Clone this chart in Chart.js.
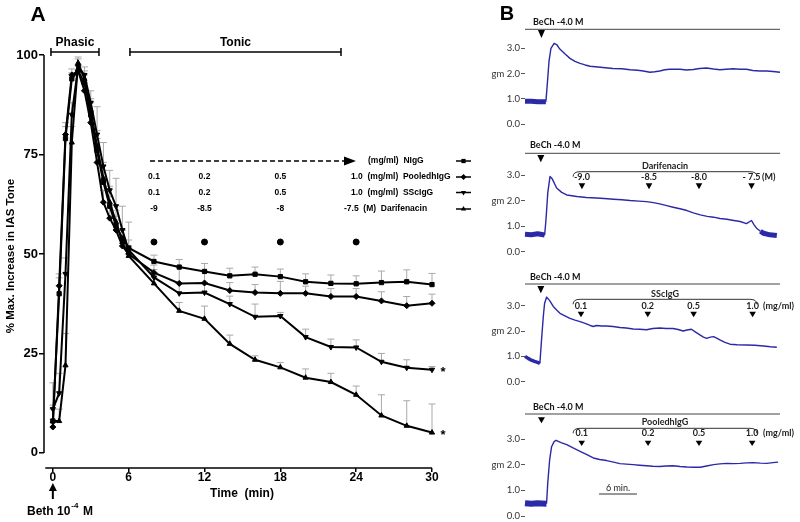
<!DOCTYPE html>
<html><head><meta charset="utf-8">
<script src="https://cdn.jsdelivr.net/npm/chart.js@4.4.1/dist/chart.umd.min.js"></script>
<style>
html,body{margin:0;padding:0;background:#fff;}
#wrap{position:relative;width:800px;height:522px;overflow:hidden;background:#fff;}
canvas{position:absolute;}
</style></head><body>
<div id="wrap">
<canvas id="cA" width="480" height="522" style="left:0;top:0"></canvas>
<canvas id="cB1" width="320" height="130" style="left:480px;top:0px"></canvas>
<canvas id="cB2" width="320" height="130" style="left:480px;top:130px"></canvas>
<canvas id="cB3" width="320" height="130" style="left:480px;top:260px"></canvas>
<canvas id="cB4" width="320" height="132" style="left:480px;top:390px"></canvas>
</div>
<script>
// ---------------- Panel A data ----------------
const timeMin = [0,0.5,1,1.5,2,2.5,3,3.5,4,4.5,5,5.5,6,8,10,12,14,16,18,20,22,24,26,28,30];
const niggMean   = [8,40,79,94,96,93,85,76,68,62,57,54,51.5,48.1,46.7,45.6,44.5,44.9,44.3,43.0,42.6,42.5,42.8,43.0,42.3];
const niggSem    = [3,4,3,1.5,1.5,2,3,3,3,2.5,2.5,2,2,1.6,1.9,2,1.9,1.8,1.9,2,2.1,2,2.9,3,2.8];
const pooledMean = [6.5,42,80,95,96,91,83,73,63,59,56,52,50,45.3,42.6,42.7,40.8,40.3,40.1,40.1,39.3,39.3,38.2,37.0,37.6];
const pooledSem  = [2,3,3,1.5,1.5,2,3,3,3,2.5,2.5,2,2,1.9,4,3,2,2,3,1.8,2,2,2.3,2.3,2.3];
const sscMean    = [11,15,45,85,97,95,88,80,72,66,62,56,51,44.1,40.1,40.3,37.4,34.2,34.4,29.1,26.6,26.5,22.9,21.4,20.9];
const sscSem     = [6.6,5,4,3,2,2,3,7,6,5,7,6,7,2,2.5,2.5,2,3.2,0.9,2,2,1.9,2.1,2,0.8];
const darifMean  = [8,8,22,78,98,94,86,77,69,63,58,53,49.5,42.6,35.7,33.7,27.4,23.4,21.5,18.9,17.8,14.6,9.4,6.8,5.1];
const darifSem   = [4,3,8,4,1.5,2,3,4,4,4,3,3,2,1.5,2.1,3.2,2.2,1,1.2,2.2,2.2,2.2,5.2,6.3,7.2];
const doseTimesA = [8,12,18,24];
const doseMarkLevel = 53;
const iggDoseLabelsA = ['0.1','0.2','0.5'];
const darifDoseLabelsA = ['-9','-8.5','-8'];
const xTicksA = [0,6,12,18,24,30];
const yTicksA = [0,25,50,75,100];
const phasicRange = [-0.15,3.65];
const tonicRange = [6.1,22.8];

// ---------------- Panel B data (time in min, tension in gm) ----------------
const traceBeCh = [[0,0.9],[1,0.9],[2,0.88],[3.3,0.88],[3.5,1.5],[3.8,2.5],[4.1,3.0],[4.6,3.2],[5.0,3.15],[5.5,2.97],[6.3,2.78],[7.1,2.6],[7.9,2.48],[8.7,2.4],[9.5,2.34],[10.3,2.29],[11.9,2.25],[13.9,2.2],[15.3,2.19],[16.6,2.15],[17.8,2.13],[18.7,2.1],[19.75,2.05],[20.5,2.07],[21.3,2.1],[22.1,2.15],[22.9,2.17],[24.5,2.17],[25.5,2.14],[26.6,2.16],[27.6,2.2],[28.7,2.22],[29.8,2.18],[30.8,2.15],[31.8,2.17],[32.9,2.19],[34,2.17],[35,2.17],[36,2.12],[37.1,2.1],[38.2,2.1],[39.2,2.08],[40.3,2.05]];
const traceDarif = [[0,0.68],[1,0.66],[2,0.7],[3.1,0.65],[3.3,1.2],[3.6,2.3],[3.95,2.94],[4.3,2.85],[5.0,2.49],[5.8,2.32],[6.6,2.22],[8.2,2.16],[9.7,2.12],[11.3,2.1],[12.5,2.08],[14,2.05],[15.3,2.03],[16.6,2.0],[18,1.98],[19.2,1.96],[20.3,1.92],[21.3,1.87],[22.4,1.8],[23.4,1.74],[24.5,1.68],[25.6,1.61],[26.6,1.52],[27.7,1.44],[28.8,1.38],[29.8,1.35],[30.8,1.3],[31.9,1.27],[33,1.22],[34,1.18],[35,1.1],[35.8,1.22],[36.2,1.05],[36.6,0.92],[37.2,0.8],[37.7,0.72],[38.7,0.66],[39.8,0.63]];
const traceSsc = [[0,1.0],[0.5,0.92],[1,0.85],[1.5,0.8],[2.1,0.75],[2.35,0.72],[2.6,1.6],[2.9,2.6],[3.1,3.1],[3.42,3.34],[3.9,3.2],[4.47,2.97],[5.0,2.83],[5.53,2.7],[6.3,2.6],[7.1,2.5],[7.9,2.43],[8.7,2.37],[9.5,2.3],[10.3,2.22],[10.8,2.18],[11.3,2.22],[12.1,2.2],[12.9,2.2],[13.9,2.18],[15,2.14],[16,2.12],[17.1,2.08],[18.1,2.07],[19.2,2.05],[20.2,2.1],[21.3,2.12],[22.3,2.1],[23.4,2.1],[24.2,2.06],[25.0,2.0],[25.6,2.04],[26.3,2.07],[26.9,1.97],[27.7,1.84],[28.2,1.76],[28.7,1.71],[29.3,1.76],[29.8,1.78],[30.3,1.72],[30.8,1.65],[31.6,1.55],[32.4,1.48],[33.5,1.46],[35,1.45],[36.3,1.44],[37.7,1.41],[38.8,1.38],[39.8,1.36]];
const tracePooled = [[0,0.5],[1,0.48],[2,0.5],[3.4,0.48],[3.6,1.3],[3.9,2.2],[4.2,2.7],[4.6,2.9],[4.9,2.95],[5.7,2.86],[6.6,2.78],[7.6,2.65],[8.7,2.52],[9.7,2.4],[10.8,2.26],[11.8,2.2],[12.9,2.16],[14,2.1],[15,2.04],[16,2.02],[17.1,2.0],[18.1,1.98],[19.2,1.96],[20.2,1.94],[21.3,1.93],[22.3,1.95],[23.4,1.96],[24.5,1.93],[25.6,1.91],[26.6,1.9],[27.7,1.9],[28.7,1.95],[29.8,2.0],[30.8,2.03],[31.9,2.05],[33,2.04],[34,2.05],[35,2.07],[36.1,2.08],[37.2,2.06],[38.2,2.05],[39.2,2.08],[40,2.1]];
const bechTimesB = [2.6,2.5,2.5,2.6];
const darifDoseTimesB = [9.0,19.6,27.5,35.8];
const darifDoseLabelsB = ['-9.0','-8.5','-8.0','- 7.5'];
const sscDoseTimesB = [8.85,19.4,26.65,35.97];
const pooledDoseTimesB = [8.96,19.45,27.5,35.9];
const iggDoseLabelsB = ['0.1','0.2','0.5','1.0'];
const bracketRangeB = [7.6,36.65];
const scaleBarMin = [11.7,17.7];
const yTicksB = [0,1,2,3];

// ---------------- helpers ----------------
const FA = "'Liberation Sans', Arial, sans-serif";
const FB = "Lato, 'Liberation Sans', sans-serif";
Chart.defaults.font.family = FA;
Chart.defaults.color = '#000';

function T(ctx,s,x,y,font,align,color){ctx.font=font;ctx.fillStyle=color||'#000';ctx.textAlign=align||'center';ctx.textBaseline='middle';ctx.fillText(s,x,y);}
function L(ctx,x1,y1,x2,y2){ctx.beginPath();ctx.moveTo(x1,y1);ctx.lineTo(x2,y2);ctx.stroke();}
function triDown(ctx,x,yTop,yBot,hw){ctx.beginPath();ctx.moveTo(x-hw,yTop);ctx.lineTo(x+hw,yTop);ctx.lineTo(x,yBot);ctx.closePath();ctx.fill();}
function mark(ctx,style,rot,x,y,r){
  ctx.beginPath();
  if(style==='rect'){const s=r*Math.SQRT1_2;ctx.rect(x-s,y-s,2*s,2*s);}
  else if(style==='rectRot'){ctx.moveTo(x,y-r);ctx.lineTo(x+r,y);ctx.lineTo(x,y+r);ctx.lineTo(x-r,y);ctx.closePath();}
  else {const d=rot?-1:1;ctx.moveTo(x,y-d*r);ctx.lineTo(x+r*0.87,y+d*r*0.5);ctx.lineTo(x-r*0.87,y+d*r*0.5);ctx.closePath();}
  ctx.fill();
}

// ---------------- Panel A ----------------
const seriesA = [
  {label:'NIgG',mean:niggMean,sem:niggSem,style:'rect',rot:0},
  {label:'PooledhIgG',mean:pooledMean,sem:pooledSem,style:'rectRot',rot:0},
  {label:'SScIgG',mean:sscMean,sem:sscSem,style:'triangle',rot:180},
  {label:'Darifenacin',mean:darifMean,sem:darifSem,style:'triangle',rot:0}
];

const errPlugin = {id:'err',beforeDatasetsDraw(chart){
  const ctx=chart.ctx,x=chart.scales.x,y=chart.scales.y;
  ctx.save();ctx.strokeStyle='#a9a9a9';ctx.lineWidth=1;
  chart.data.datasets.forEach(ds=>{
    if(!ds.sem) return;
    ds.data.forEach((p,i)=>{
      const px=x.getPixelForValue(p.x),py=y.getPixelForValue(p.y),pe=y.getPixelForValue(p.y+ds.sem[i]);
      L(ctx,px,py,px,pe);L(ctx,px-3.5,pe,px+3.5,pe);
    });
  });
  ctx.restore();
}};

const annotA = {id:'annA',afterDraw(chart){
  const ctx=chart.ctx,x=chart.scales.x,y=chart.scales.y,ca=chart.chartArea;
  ctx.save();
  ctx.strokeStyle='#000';ctx.fillStyle='#000';ctx.lineWidth=1.5;
  L(ctx,ca.left,y.getPixelForValue(100),ca.left,y.getPixelForValue(0));
  L(ctx,x.getPixelForValue(-0.6),ca.bottom,x.getPixelForValue(30),ca.bottom);
  T(ctx,'A',38,15,'bold 21px '+FA);
  const br=(r,label)=>{const x1=x.getPixelForValue(r[0]),x2=x.getPixelForValue(r[1]);ctx.lineWidth=1.5;
    L(ctx,x1,52,x2,52);L(ctx,x1,48,x1,56);L(ctx,x2,48,x2,56);T(ctx,label,(x1+x2)/2,43,'bold 12px '+FA);};
  br(phasicRange,'Phasic');br(tonicRange,'Tonic');
  // dashed arrow
  ctx.lineWidth=1.3;ctx.setLineDash([5,3]);L(ctx,150,161,345,161);ctx.setLineDash([]);
  ctx.beginPath();ctx.moveTo(356,161);ctx.lineTo(344,156.5);ctx.lineTo(344,165.5);ctx.closePath();ctx.fill();
  const rf='bold 8.5px '+FA;
  const rows=[161,177,192.5,209];
  T(ctx,'(mg/ml)  NIgG',368,rows[0],rf,'left');
  iggDoseLabelsA.forEach((s,i)=>{const px=x.getPixelForValue(doseTimesA[i]);T(ctx,s,px,rows[1],rf);T(ctx,s,px,rows[2],rf);});
  darifDoseLabelsA.forEach((s,i)=>{T(ctx,s,x.getPixelForValue(doseTimesA[i]),rows[3],rf);});
  T(ctx,'1.0  (mg/ml)  PooledhIgG',351,rows[1],rf,'left');
  T(ctx,'1.0  (mg/ml)  SScIgG',351,rows[2],rf,'left');
  T(ctx,'-7.5  (M)  Darifenacin',344,rows[3],rf,'left');
  seriesA.forEach((s,i)=>{ctx.lineWidth=1.5;L(ctx,456,rows[i],471,rows[i]);mark(ctx,s.style,s.rot,463.5,rows[i],3);});
  // asterisks
  const ax=x.getPixelForValue(30)+11;
  T(ctx,'*',ax,y.getPixelForValue(sscMean[sscMean.length-1])+3,'bold 13px '+FA);
  T(ctx,'*',ax,y.getPixelForValue(darifMean[darifMean.length-1])+3,'bold 13px '+FA);
  // titles
  T(ctx,'Time  (min)',242,494,'bold 12px '+FA);
  ctx.save();ctx.translate(11,256);ctx.rotate(-Math.PI/2);T(ctx,'% Max. Increase in IAS Tone',0,0,'bold 11.5px '+FA);ctx.restore();
  // Beth arrow
  const bx=x.getPixelForValue(0);ctx.lineWidth=2;L(ctx,bx,499,bx,489);
  ctx.beginPath();ctx.moveTo(bx,483);ctx.lineTo(bx+4,491);ctx.lineTo(bx-4,491);ctx.closePath();ctx.fill();
  ctx.font='bold 12px '+FA;const w=ctx.measureText('Beth 10').width;
  T(ctx,'Beth 10',27,512,'bold 12px '+FA,'left');
  T(ctx,'-4',27+w+1,506,'bold 8px '+FA,'left');
  T(ctx,'M',83,512,'bold 12px '+FA,'left');
  ctx.restore();
}};

new Chart(document.getElementById('cA'),{
  type:'line',
  data:{datasets:seriesA.map(s=>({label:s.label,data:timeMin.map((t,i)=>({x:t,y:s.mean[i]})),sem:s.sem,
      borderColor:'#000',backgroundColor:'#000',borderWidth:2,pointStyle:s.style,pointRotation:s.rot,pointRadius:3,
      pointBorderWidth:1,tension:0,clip:false}))
    .concat([{label:'dose',data:doseTimesA.map(t=>({x:t,y:doseMarkLevel})),showLine:false,pointStyle:'circle',
      pointRadius:3,backgroundColor:'#000',borderColor:'#000',clip:false}])},
  options:{animation:false,responsive:false,events:[],
    layout:{padding:{top:55,right:48,left:0,bottom:0}},
    plugins:{legend:{display:false},tooltip:{enabled:false}},
    scales:{
      x:{type:'linear',min:-0.7,max:30,
        afterBuildTicks:s=>{s.ticks=xTicksA.map(v=>({value:v}));},
        afterFit:s=>{s.height=54;s.paddingLeft=0;s.paddingRight=0;},
        grid:{display:true,drawOnChartArea:false,drawTicks:true,tickLength:4,color:'#000',lineWidth:1.5},
        border:{display:false},
        ticks:{font:{size:12,weight:'bold'},color:'#000',padding:-2,maxRotation:0,autoSkip:false}},
      y:{min:-3.8,max:100,
        afterBuildTicks:s=>{s.ticks=yTicksA.map(v=>({value:v}));},
        afterFit:s=>{s.width=44;s.paddingTop=0;s.paddingBottom=0;},
        grid:{display:true,drawOnChartArea:false,drawTicks:true,tickLength:5,color:'#000',lineWidth:1.5},
        border:{display:false},
        ticks:{font:{size:13,weight:'bold'},color:'#000',padding:1,autoSkip:false}}
    }},
  plugins:[errPlugin,annotA]
});

// ---------------- Panel B ----------------
const subs = [
  {id:'cB1',top:0,h:130,y0:124,y3:48.3,trace:traceBeCh,bech:bechTimesB[0],bands:[[0,3.3]],band:5,letter:true,
   bechX:533,bechTextY:22.5,lineY:29.3,bechTri:[30,38]},
  {id:'cB2',top:130,h:130,y0:251.7,y3:175,trace:traceDarif,bech:bechTimesB[1],bands:[[0,3.1],[37.2,41]],band:5,
   bechX:530,bechTextY:145,lineY:153.3,bechTri:[155,162.3],
   drug:{name:'Darifenacin',nameY:166,bracketY:171.7,labelY:177.3,triY:[183.3,189.3],doses:darifDoseTimesB,labels:darifDoseLabelsB,unit:'(M)',unitX:762}},
  {id:'cB3',top:260,h:130,y0:381.7,y3:305.7,trace:traceSsc,bech:bechTimesB[2],bands:[[0,2.35]],band:3.5,
   bechX:530,bechTextY:276.7,lineY:284,bechTri:[286,293.3],
   drug:{name:'SScIgG',nameY:294,bracketY:299.3,labelY:306,triY:[311.7,317.3],doses:sscDoseTimesB,labels:iggDoseLabelsB,unit:'(mg/ml)',unitX:763}},
  {id:'cB4',top:390,h:132,y0:516,y3:439,trace:tracePooled,bech:bechTimesB[3],bands:[[0,3.4]],band:6,
   bechX:533,bechTextY:407.3,lineY:414,bechTri:[417.3,423.3],scaleBar:true,
   drug:{name:'PooledhIgG',nameY:422.3,bracketY:428.3,labelY:433.3,triY:[440.7,446],doses:pooledDoseTimesB,labels:iggDoseLabelsB,unit:'(mg/ml)',unitX:763}}
];

function annotB(spec){return {id:'annB',afterDraw(chart){
  const ctx=chart.ctx,x=chart.scales.x,o=spec.top,ox=480;
  ctx.save();
  if(spec.letter) T(ctx,'B',27,14.5,'bold 20px '+FA);
  T(ctx,'BeCh -4.0 M',spec.bechX-ox,spec.bechTextY-o,'bold 9px '+FB,'left','#111');
  ctx.strokeStyle='#444';ctx.lineWidth=1;
  L(ctx,chart.chartArea.left,spec.lineY-o,chart.chartArea.right,spec.lineY-o);
  ctx.fillStyle='#000';
  triDown(ctx,x.getPixelForValue(spec.bech),spec.bechTri[0]-o,spec.bechTri[1]-o,3.5);
  const d=spec.drug;
  if(d){
    const bx1=x.getPixelForValue(bracketRangeB[0]),bx2=x.getPixelForValue(bracketRangeB[1]),by=d.bracketY-o;
    ctx.strokeStyle='#333';ctx.lineWidth=1;
    ctx.beginPath();ctx.moveTo(bx1,by+5);ctx.quadraticCurveTo(bx1,by,bx1+7,by);ctx.lineTo(bx2-7,by);ctx.quadraticCurveTo(bx2,by,bx2,by+5);ctx.stroke();
    T(ctx,d.name,(bx1+bx2)/2,d.nameY-o,'bold 9px '+FB,'center','#222');
    d.doses.forEach((t,i)=>{const px=x.getPixelForValue(t);
      T(ctx,d.labels[i],px,d.labelY-o,'bold 9px '+FB,'center','#222');
      ctx.fillStyle='#000';triDown(ctx,px,d.triY[0]-o,d.triY[1]-o,3.3);});
    T(ctx,d.unit,d.unitX-ox,d.labelY-o,'bold 9px '+FB,'left','#222');
  }
  if(spec.scaleBar){
    const s1=x.getPixelForValue(scaleBarMin[0]),s2=x.getPixelForValue(scaleBarMin[1]);
    ctx.strokeStyle='#333';ctx.lineWidth=1;L(ctx,s1,494-o,s2,494-o);
    T(ctx,'6 min.',(s1+s2)/2,488.5-o,'9px '+FB,'center','#222');
  }
  ctx.restore();
}};}

function makeB(spec){
  const unit=(spec.y0-spec.y3)/3,ymax=3.6;
  const padTop=spec.y0-ymax*unit-spec.top;
  const padBottom=spec.top+spec.h-spec.y0;
  const inBand=(a,b)=>spec.bands.some(r=>a>=r[0]&&b<=r[1]);
  new Chart(document.getElementById(spec.id),{
    type:'line',
    data:{datasets:[{data:spec.trace.map(p=>({x:p[0],y:p[1]})),borderColor:'#2a2aa8',borderWidth:1.4,pointRadius:0,
      tension:0,clip:false,borderJoinStyle:'round',
      segment:{borderWidth:c=>inBand(c.p0.parsed.x,c.p1.parsed.x)?spec.band:1.4}}]},
    options:{animation:false,responsive:false,events:[],
      layout:{padding:{top:padTop,bottom:padBottom,left:0,right:20}},
      plugins:{legend:{display:false},tooltip:{enabled:false}},
      scales:{
        x:{type:'linear',display:false,min:0,max:40.3},
        y:{min:0,max:ymax,
          afterBuildTicks:s=>{s.ticks=yTicksB.map(v=>({value:v}));},
          afterFit:s=>{s.width=45;s.paddingTop=0;s.paddingBottom=0;},
          grid:{display:true,drawOnChartArea:false,drawTicks:true,tickLength:4,color:'#555',lineWidth:1},
          border:{display:false},
          ticks:{font:{family:FB,size:9.5},color:'#333',padding:1,autoSkip:false,
            callback:v=>v===2?'gm 2.0':v.toFixed(1)}}
      }},
    plugins:[annotB(spec)]
  });
}
subs.forEach(makeB);
</script>
</body></html>
